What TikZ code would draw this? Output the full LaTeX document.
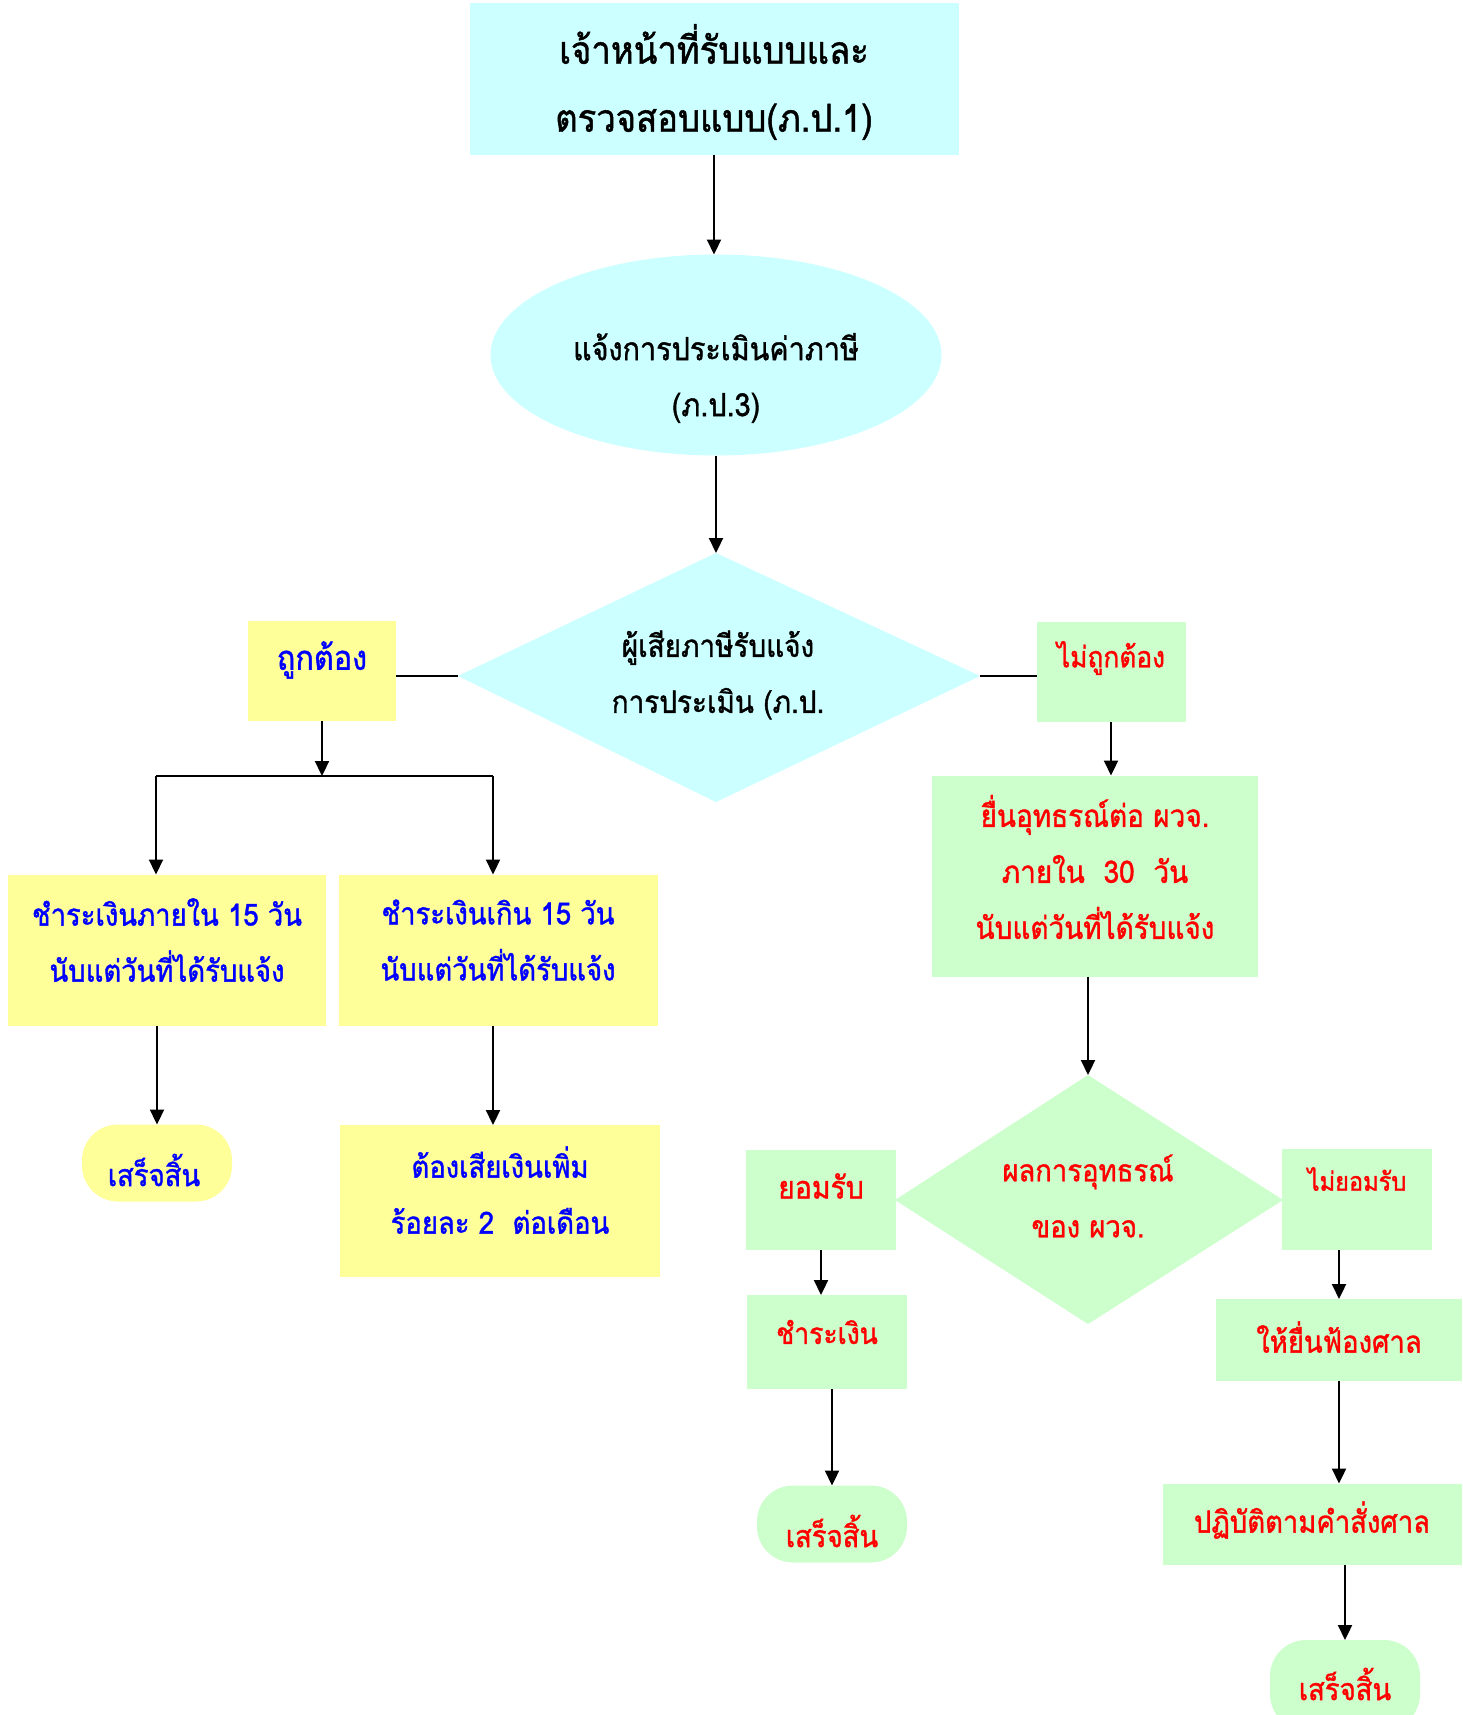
\documentclass[tikz,border=0pt]{standalone}
\usepackage{fontspec}
\newfontfamily\thaifont[Script=Thai,FakeStretch=0.9,FakeBold=1.2]{Loma}
\usetikzlibrary{arrows.meta,shapes.geometric}
\definecolor{cyanfill}{HTML}{CCFFFF}
\definecolor{yelfill}{HTML}{FFFF99}
\definecolor{grnfill}{HTML}{CCFFCC}
\definecolor{bluetxt}{HTML}{0000FF}
\definecolor{redtxt}{HTML}{FF0000}
\newcommand{\fsz}[1]{\thaifont\fontsize{#1}{56}\selectfont}
\begin{document}
\begin{tikzpicture}[x=1pt,y=-1pt,
  shp/.style={inner sep=0pt, outer sep=0pt, draw=none},
  boxc/.style={shp, rectangle, fill=cyanfill},
  boxy/.style={shp, rectangle, fill=yelfill},
  boxg/.style={shp, rectangle, fill=grnfill},
  termy/.style={shp, rectangle, rounded corners=36pt, fill=yelfill},
  termg/.style={shp, rectangle, rounded corners=36pt, fill=grnfill},
  txt/.style={inner sep=0pt, align=center, font=\fsz{30.5}},
  tblk/.style={txt, text=black},
  tblu/.style={txt, text=bluetxt},
  tred/.style={txt, text=redtxt},
  conn/.style={draw=black, line width=2.2pt, -{Triangle[length=15pt,width=14pt]}},
  plain/.style={draw=black, line width=2.2pt}
]
\useasboundingbox (0,0) rectangle (1462,1715);
\fill[white] (0,0) rectangle (1462,1715);

% ---- shapes ----
\node[boxc, minimum width=489pt, minimum height=152pt] (top) at (714,79) {};
\node[shp, ellipse, fill=cyanfill, minimum width=451pt, minimum height=201pt] (ell) at (716,355) {};
\fill[cyanfill] (716,553) coordinate (dtop) -- (980,676) coordinate (dright) -- (716,802) coordinate (dbot) -- (458,676) coordinate (dleft) -- cycle;
\node[boxy, minimum width=148pt, minimum height=100pt] (ok) at (322,671) {};
\node[boxg, minimum width=149pt, minimum height=100pt] (nok) at (1111,672) {};
\node[boxy, minimum width=318pt, minimum height=151pt] (pa) at (167,950) {};
\node[boxy, minimum width=319pt, minimum height=151pt] (pb) at (498,950) {};
\node[termy, minimum width=150pt, minimum height=77pt] (enda) at (157,1163) {};
\node[boxy, minimum width=320pt, minimum height=152pt] (pc) at (500,1201) {};
\node[boxg, minimum width=326pt, minimum height=201pt] (app) at (1095,876) {};
\fill[grnfill] (1088,1075) coordinate (gtop) -- (1283,1200) coordinate (gright) -- (1088,1324) coordinate (gbot) -- (895,1200) coordinate (gleft) -- cycle;
\node[boxg, minimum width=150pt, minimum height=100pt] (yes) at (821,1200) {};
\node[boxg, minimum width=150pt, minimum height=101pt] (no) at (1357,1199) {};
\node[boxg, minimum width=160pt, minimum height=94pt] (pay) at (827,1342) {};
\node[termg, minimum width=150pt, minimum height=77pt] (endb) at (832,1524) {};
\node[boxg, minimum width=246pt, minimum height=82pt] (sue) at (1339,1340) {};
\node[boxg, minimum width=299pt, minimum height=81pt] (court) at (1312,1524) {};
\node[termg, minimum width=150pt, minimum height=90pt] (endc) at (1345,1685) {};

% ---- texts ----
\node[tblk, font=\thaifont\fontsize{38.5}{68}\selectfont] (ttop) at (714,82) {เจ้าหน้าที่รับแบบและ\\ตรวจสอบแบบ(ภ.ป.1)};
\node[tblk, font=\fsz{32}] (tell) at (716,378) {แจ้งการประเมินค่าภาษี\\(ภ.ป.3)};
\node[tblk, font=\fsz{31}] (tdia) at (718,675) {ผู้เสียภาษีรับแจ้ง\\การประเมิน (ภ.ป.};
\node[tblu, font=\fsz{34}] (tok) at (322,660) {ถูกต้อง};
\node[tred, font=\fsz{29.2}] (tnok) at (1111,658) {ไม่ถูกต้อง};
\node[tblu] (tpa) at (167,940) {ชำระเงินภายใน 15 วัน\\นับแต่วันที่ได้รับแจ้ง};
\node[tblu] (tpb) at (498,940) {ชำระเงินเกิน 15 วัน\\นับแต่วันที่ได้รับแจ้ง};
\node[tblu] (tenda) at (154,1170) {เสร็จสิ้น};
\node[tblu] (tpc) at (500,1190) {ต้องเสียเงินเพิ่ม\\ร้อยละ 2~~ต่อเดือน};
\node[tred, font=\fsz{31}] (tapp) at (1095,867) {ยื่นอุทธรณ์ต่อ ผวจ.\\ภายใน~~30~~วัน\\นับแต่วันที่ได้รับแจ้ง};
\node[tred] (tgd) at (1088,1196) {ผลการอุทธรณ์\\ของ ผวจ.};
\node[tred, font=\fsz{31.5}] (tyes) at (821,1186) {ยอมรับ};
\node[tred, font=\fsz{26.2}] (tno) at (1357,1179) {ไม่ยอมรับ};
\node[tred, font=\fsz{29.5}] (tpay) at (827,1332) {ชำระเงิน};
\node[tred] (tendb) at (832,1531) {เสร็จสิ้น};
\node[tred] (tsue) at (1339,1337) {ให้ยื่นฟ้องศาล};
\node[tred] (tcourt) at (1312,1520) {ปฏิบัติตามคำสั่งศาล};
\node[tred] (tendc) at (1345,1684) {เสร็จสิ้น};

% ---- connectors ----
\draw[conn] (top.south) -- (top.south |- ell.north);
\draw[conn] (ell.south) -- (dtop);
\draw[plain] (dleft) -- (ok.east |- dleft);
\draw[plain] (dright) -- (nok.west |- dright);
\coordinate (jl) at (156,776);
\coordinate (jr) at (493,776);
\draw[conn] (ok.south) -- (ok.south |- jl);
\draw[plain] (jl) -- (jr);
\draw[conn] (jl) -- (jl |- pa.north);
\draw[conn] (jr) -- (jr |- pb.north);
\draw[conn] (pa.south -| enda.north) -- (enda.north);
\draw[conn] (pb.south -| jr) -- (jr |- pc.north);
\draw[conn] (nok.south) -- (nok.south |- app.north);
\draw[conn] (app.south -| gtop) -- (gtop);
\draw[conn] (yes.south) -- (yes.south |- pay.north);
\draw[conn] (pay.south -| endb.north) -- (endb.north);
\draw[conn] (no.south -| sue.north) -- (sue.north);
\draw[conn] (sue.south) -- (sue.south |- court.north);
\draw[conn] (court.south -| endc.north) -- (endc.north);
\end{tikzpicture}
\end{document}
